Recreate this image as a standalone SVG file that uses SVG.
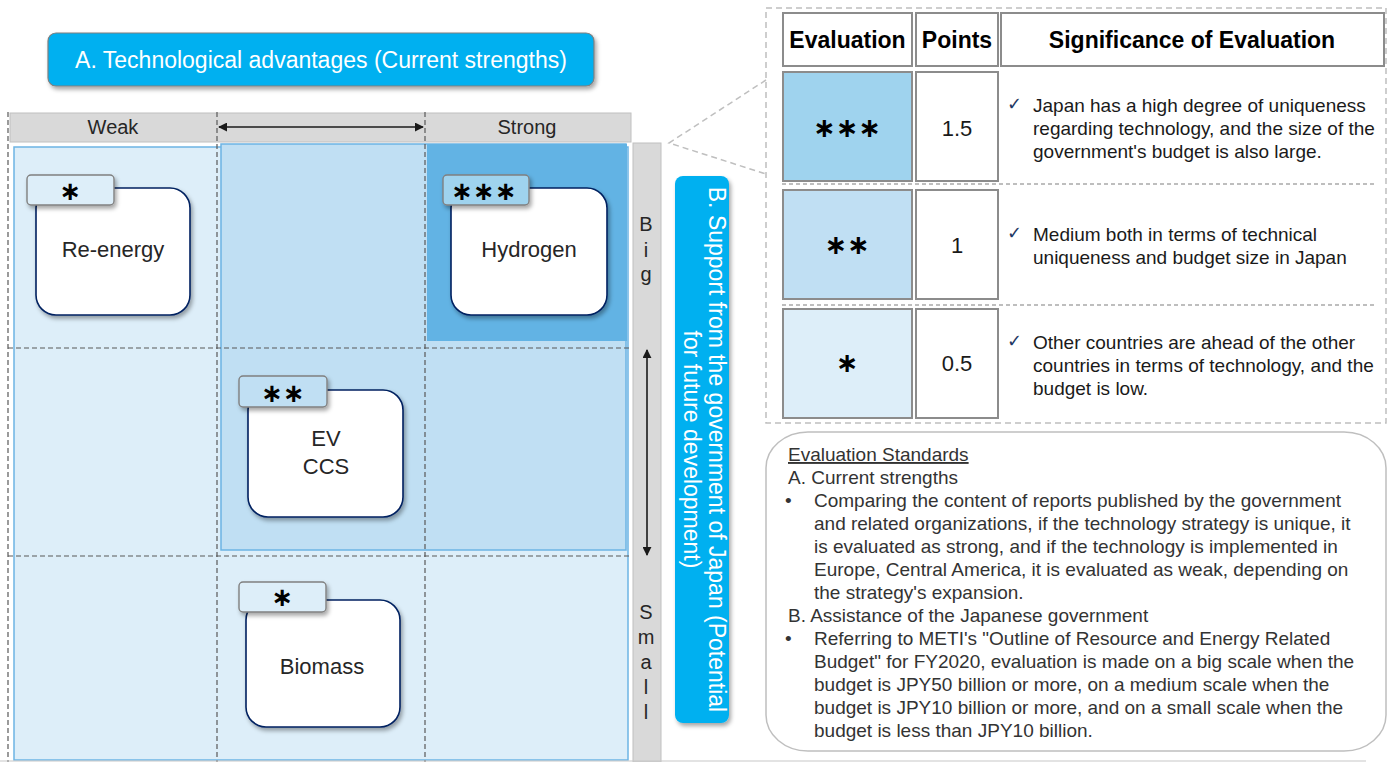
<svg xmlns="http://www.w3.org/2000/svg" width="1391" height="762" viewBox="0 0 1391 762">
<defs>
<filter id="sh" x="-20%" y="-20%" width="150%" height="150%"><feDropShadow dx="2" dy="3" stdDeviation="2" flood-color="#000" flood-opacity="0.35"/></filter>
<marker id="ah" viewBox="0 0 10 10" refX="9" refY="5" markerWidth="9" markerHeight="9" markerUnits="userSpaceOnUse" orient="auto-start-reverse"><path d="M0,0 L10,5 L0,10 z" fill="#1a1a1a"/></marker>
<style>
text{font-family:"Liberation Sans",Arial,sans-serif;fill:#1a1a1a}
.dash{stroke:#595959;stroke-width:1.2;stroke-dasharray:5 3;fill:none}
.gbar{fill:#d9d9d9;stroke:#c0c0c0;stroke-width:1}
.box{fill:#fff;stroke:#002060;stroke-width:1.6;filter:url(#sh)}
.tag{stroke:#808080;stroke-width:1.4;filter:url(#sh)}
.lbl{font-size:22px;text-anchor:middle;fill:#262626}
.ast{font-family:"DejaVu Sans",sans-serif;font-weight:bold;text-anchor:middle;fill:#000}
.cell{stroke:#8c8c8c;stroke-width:2}
.th{font-size:23px;font-weight:bold;text-anchor:middle;fill:#000}
.td{font-size:19px;fill:#1a1a1a}
.num{font-size:22px;text-anchor:middle;fill:#1a1a1a}
.chk{font-family:"DejaVu Sans",sans-serif;font-size:18px;fill:#1f3864}
.std{font-size:19px;fill:#333}
.ax{font-size:20px;text-anchor:middle;fill:#262626}
</style>
</defs>
<rect width="1391" height="762" fill="#fff"/>

<g id="title-a">
<rect x="48" y="33" width="546" height="53" rx="8" fill="#00b0f0" stroke="#7f7f7f" stroke-width="1.2" filter="url(#sh)"/>
<text x="321" y="68" font-size="23" text-anchor="middle" style="fill:#fff">A. Technological advantages (Current strengths)</text>
</g>

<g id="grid">
<rect x="14" y="147" width="614" height="613" fill="#ddeef9" stroke="#6cb4e4" stroke-width="1.5"/>
<rect x="221" y="144" width="405" height="406" fill="#c0dff3" stroke="#6cb4e4" stroke-width="1.5"/>
<rect x="427" y="144" width="200" height="197" fill="#62b3e4"/>
<rect x="10" y="113" width="621" height="29" class="gbar"/>
<rect x="633" y="143" width="28" height="619" class="gbar"/>
<text x="113" y="134" class="ax">Weak</text>
<text x="527" y="134" class="ax">Strong</text>
<text x="646" y="231" class="ax">B</text>
<text x="646" y="257" class="ax">i</text>
<text x="646" y="281" class="ax">g</text>
<text x="646" y="619" class="ax">S</text>
<text x="646" y="644" class="ax">m</text>
<text x="646" y="669" class="ax">a</text>
<text x="646" y="694" class="ax">l</text>
<text x="646" y="719" class="ax">l</text>
<line x1="8" y1="112" x2="8" y2="762" class="dash"/>
<line x1="217" y1="112" x2="217" y2="762" class="dash"/>
<line x1="425" y1="112" x2="425" y2="762" class="dash"/>
<line x1="8" y1="348" x2="632" y2="348" class="dash"/>
<line x1="8" y1="556" x2="632" y2="556" class="dash"/>
<line x1="0" y1="761" x2="1366" y2="761" stroke="#c8c8c8" stroke-width="1.2"/>
</g>

<g id="connectors">
<line x1="219" y1="127" x2="423" y2="127" stroke="#1a1a1a" stroke-width="1.6" marker-start="url(#ah)" marker-end="url(#ah)"/>
<line x1="647" y1="350" x2="647" y2="555" stroke="#1a1a1a" stroke-width="1.6" marker-start="url(#ah)" marker-end="url(#ah)"/>
<polyline points="766,80 669,143 766,174" fill="none" stroke="#bfbfbf" stroke-width="1.5" stroke-dasharray="6 4"/>
</g>

<g id="title-b">
<rect x="675" y="176" width="54" height="547" rx="8" fill="#00b0f0" filter="url(#sh)"/>
<g transform="translate(702,449.5) rotate(90)">
<text x="0" y="-7" font-size="23" text-anchor="middle" style="fill:#fff">B. Support from the government of Japan (Potential</text>
<text x="0" y="18" font-size="23" text-anchor="middle" style="fill:#fff">for future development)</text>
</g>
</g>

<g id="node-reenergy">
<rect x="36" y="188" width="154" height="127" rx="20" class="box"/>
<rect x="27" y="175" width="87" height="30" rx="4" fill="#ddeef9" class="tag"/>
<text x="70.5" y="200" font-size="26" class="ast">∗</text>
<text x="113" y="257" class="lbl">Re-energy</text>
</g>

<g id="node-hydrogen">
<rect x="451" y="188" width="156" height="127" rx="20" class="box"/>
<rect x="443" y="175" width="86" height="30" rx="4" fill="#9fd3ee" class="tag"/>
<text x="484" y="200" font-size="26" class="ast">∗∗∗</text>
<text x="529" y="257" class="lbl">Hydrogen</text>
</g>

<g id="node-ev-ccs">
<rect x="248" y="390" width="155" height="127" rx="20" class="box"/>
<rect x="239" y="376" width="88" height="31" rx="4" fill="#c0dff3" class="tag"/>
<text x="283" y="402" font-size="26" class="ast">∗∗</text>
<text x="326" y="446" class="lbl">EV</text>
<text x="326" y="474" class="lbl">CCS</text>
</g>

<g id="node-biomass">
<rect x="246" y="600" width="154" height="127" rx="20" class="box"/>
<rect x="239" y="582" width="87" height="30" rx="4" fill="#ddeef9" class="tag"/>
<text x="282.5" y="606" font-size="26" class="ast">∗</text>
<text x="322" y="674" class="lbl">Biomass</text>
</g>

<g id="eval-table">
<rect x="766" y="8" width="620" height="415" fill="none" stroke="#bfbfbf" stroke-width="1.5" stroke-dasharray="6 4"/>
<rect x="783" y="13" width="129" height="53" fill="#fff" class="cell"/>
<rect x="916" y="13" width="82" height="53" fill="#fff" class="cell"/>
<rect x="1001" y="13" width="383" height="53" fill="#fff" class="cell"/>
<text x="847.5" y="48" class="th">Evaluation</text>
<text x="957" y="48" class="th">Points</text>
<text x="1192" y="48" class="th">Significance of Evaluation</text>

<rect x="783" y="72" width="129" height="109" fill="#9fd3ee" class="cell"/>
<rect x="916" y="72" width="82" height="109" fill="#fff" class="cell"/>
<text x="847" y="137" font-size="27" class="ast">∗∗∗</text>
<text x="957" y="136" class="num">1.5</text>
<text x="1007" y="110" class="chk">✓</text>
<text x="1033" y="112" class="td">Japan has a high degree of uniqueness</text>
<text x="1033" y="135" class="td">regarding technology, and the size of the</text>
<text x="1033" y="158" class="td">government's budget is also large.</text>
<line x1="782" y1="184" x2="1376" y2="184" stroke="#7f7f7f" stroke-width="1.2" stroke-dasharray="4 3"/>

<rect x="783" y="190" width="129" height="109" fill="#c0dff3" class="cell"/>
<rect x="916" y="190" width="82" height="109" fill="#fff" class="cell"/>
<text x="847" y="254" font-size="27" class="ast">∗∗</text>
<text x="957" y="253" class="num">1</text>
<text x="1007" y="239" class="chk">✓</text>
<text x="1033" y="241" class="td">Medium both in terms of technical</text>
<text x="1033" y="264" class="td">uniqueness and budget size in Japan</text>
<line x1="782" y1="305" x2="1376" y2="305" stroke="#7f7f7f" stroke-width="1.2" stroke-dasharray="4 3"/>

<rect x="783" y="309" width="129" height="109" fill="#ddeef9" class="cell"/>
<rect x="916" y="309" width="82" height="109" fill="#fff" class="cell"/>
<text x="847" y="372" font-size="27" class="ast">∗</text>
<text x="957" y="371" class="num">0.5</text>
<text x="1007" y="347" class="chk">✓</text>
<text x="1033" y="349" class="td">Other countries are ahead of the other</text>
<text x="1033" y="372" class="td">countries in terms of technology, and the</text>
<text x="1033" y="395" class="td">budget is low.</text>
</g>

<g id="eval-standards">
<rect x="766" y="432" width="620" height="319" rx="42" ry="36" fill="#fff" stroke="#bfbfbf" stroke-width="1.5"/>
<text x="788" y="461" class="std" text-decoration="underline">Evaluation Standards</text>
<text x="788" y="484" class="std">A. Current strengths</text>
<text x="785" y="507" class="std">•</text>
<text x="814" y="507" class="std">Comparing the content of reports published by the government</text>
<text x="814" y="530" class="std">and related organizations, if the technology strategy is unique, it</text>
<text x="814" y="553" class="std">is evaluated as strong, and if the technology is implemented in</text>
<text x="814" y="576" class="std">Europe, Central America, it is evaluated as weak, depending on</text>
<text x="814" y="599" class="std">the strategy's expansion.</text>
<text x="788" y="622" class="std">B. Assistance of the Japanese government</text>
<text x="785" y="645" class="std">•</text>
<text x="814" y="645" class="std">Referring to METI's "Outline of Resource and Energy Related</text>
<text x="814" y="668" class="std">Budget" for FY2020, evaluation is made on a big scale when the</text>
<text x="814" y="691" class="std">budget is JPY50 billion or more, on a medium scale when the</text>
<text x="814" y="714" class="std">budget is JPY10 billion or more, and on a small scale when the</text>
<text x="814" y="737" class="std">budget is less than JPY10 billion.</text>
</g>
</svg>
